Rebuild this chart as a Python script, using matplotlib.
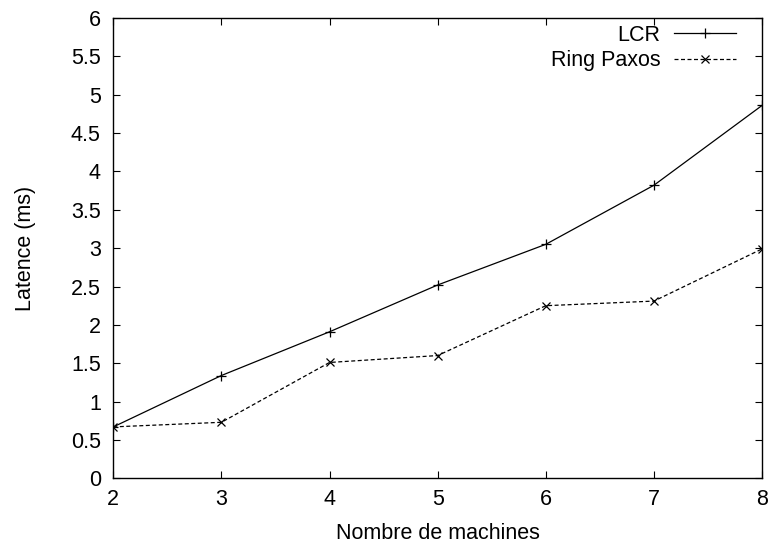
import matplotlib
matplotlib.use("Agg")
import matplotlib.pyplot as plt

plt.rcParams['font.family'] = ['Liberation Sans', 'DejaVu Sans']

machines = [2, 3, 4, 5, 6, 7, 8]
lcr = [0.67, 1.34, 1.91, 2.52, 3.05, 3.82, 4.86]
ring_paxos = [0.67, 0.73, 1.51, 1.60, 2.25, 2.31, 2.99]

fs = 15.5

fig = plt.figure(figsize=(7.73, 5.46), dpi=100)
ax = fig.add_axes([0.1466, 0.124, 0.8392, 0.843])

ax.plot(machines, lcr, color='black', lw=0.9, marker='+', ms=7, mew=0.9, label='LCR')
ax.plot(machines, ring_paxos, color='black', lw=0.9, ls=(0, (3.2, 2.0)), marker='x', ms=6, mew=0.9,
        label='Ring Paxos')

ax.set_xlim(2, 8)
ax.set_ylim(0, 6)
ax.set_xticks(machines)
ax.set_yticks([i * 0.5 for i in range(13)])
ax.set_yticklabels(['0', '0.5', '1', '1.5', '2', '2.5', '3', '3.5', '4', '4.5', '5', '5.5', '6'])
ax.tick_params(direction='in', top=True, right=True, length=5, width=0.8, labelsize=fs)
ax.tick_params(axis='x', pad=8)
ax.tick_params(axis='y', pad=9)
for s in ax.spines.values():
    s.set_linewidth(1.0)

ax.set_xlabel('Nombre de machines', fontsize=fs, labelpad=9)
ax.set_ylabel('Latence (ms)', fontsize=fs, labelpad=25)

ax.legend(loc='upper right', bbox_to_anchor=(1 - 26 / 649, 1 - 7 / 460), frameon=False,
          markerfirst=False, fontsize=fs, handlelength=2.9, borderaxespad=0, borderpad=0,
          labelspacing=0.19, handletextpad=0.6)

fig.savefig('out.png', dpi=100)
